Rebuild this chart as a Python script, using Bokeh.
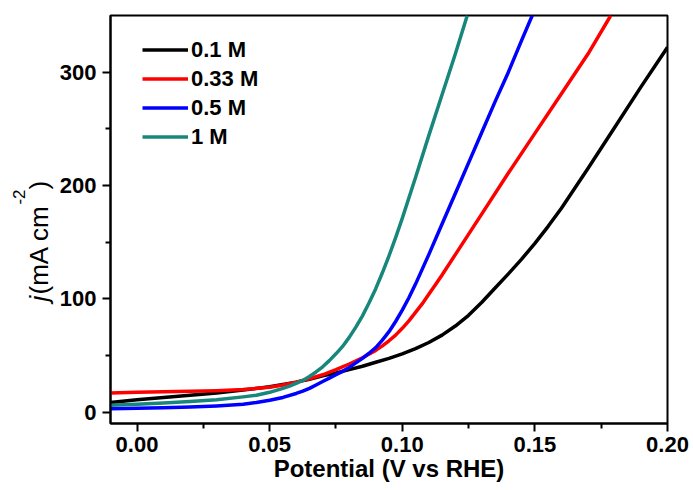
from bokeh.plotting import figure
from bokeh.layouts import row
from bokeh.models import Range1d, FixedTicker, PrintfTickFormatter, Legend, LegendItem
from bokeh.core.properties import value
from bokeh.embed import file_html
from bokeh.resources import INLINE
import math

FONT = "Liberation Sans"

# ---- data ----
x_black = [-0.01, 0.0, 0.01, 0.02, 0.03, 0.04, 0.05, 0.06, 0.065, 0.07, 0.075, 0.08, 0.085, 0.09,
           0.095, 0.10, 0.105, 0.11, 0.115, 0.12, 0.125, 0.13, 0.135, 0.14, 0.145, 0.15, 0.155,
           0.16, 0.17, 0.18, 0.19, 0.20]
y_black = [8.5, 11, 13, 15, 17, 19.5, 22.5, 26.5, 29, 32, 34.5, 37.5, 40.5, 44,
           47.5, 51.5, 56, 61.5, 68, 76, 85.5, 97, 109.5, 122, 135, 149, 164,
           180, 215, 251, 287, 322]

x_red = [-0.01, 0.0, 0.01, 0.02, 0.03, 0.04, 0.05, 0.055, 0.06, 0.065, 0.07, 0.075, 0.08, 0.085,
         0.09, 0.0925, 0.095, 0.0975, 0.10, 0.1025, 0.105, 0.1075, 0.11, 0.1125, 0.115, 0.12,
         0.13, 0.14, 0.15, 0.16, 0.17, 0.1786]
y_red = [17, 17.5, 18, 18.5, 19, 20, 22, 24, 26.5, 29.5, 33, 37.5, 42.5, 48,
         54.5, 58.5, 63, 68, 74, 80.5, 88, 95.5, 104, 112.5, 121, 139,
         175, 211, 246, 281, 316, 350]

x_blue = [-0.01, 0.0, 0.01, 0.02, 0.03, 0.04, 0.045, 0.05, 0.055, 0.06, 0.0625, 0.065, 0.0675,
          0.07, 0.0725, 0.075, 0.0775, 0.08, 0.0825, 0.085, 0.0875, 0.09, 0.0925, 0.095, 0.0975,
          0.10, 0.1025, 0.105, 0.1075, 0.11, 0.115, 0.12, 0.125, 0.13, 0.135, 0.14, 0.145, 0.149]
y_blue = [3, 3.5, 4, 4.5, 5.5, 7, 8.5, 10.5, 13, 16.5, 18.5, 21, 24,
          27, 30, 33, 36, 39.5, 43.5, 47.5, 52, 57, 63.5, 71, 80,
          90, 101, 113, 126, 139, 166, 193, 220, 247, 274, 300, 328, 350]

x_teal = [-0.01, 0.0, 0.01, 0.02, 0.03, 0.04, 0.045, 0.05, 0.055, 0.0575, 0.06, 0.0625, 0.065,
          0.0675, 0.07, 0.0725, 0.075, 0.0775, 0.08, 0.0825, 0.085, 0.0875, 0.09, 0.0925, 0.095,
          0.0975, 0.10, 0.105, 0.11, 0.115, 0.12, 0.1245]
y_teal = [6, 7, 8, 9.5, 11, 13.5, 15, 17.5, 21, 23, 25.5, 28, 31.5,
          35.5, 40, 45.5, 51.5, 58, 66, 75, 85, 96.5, 109, 123, 138,
          154, 171, 207, 244, 280, 316, 350]

series_names = ["0.1 M", "0.33 M", "0.5 M", "1 M"]
series_colors = ["#000000", "#ff0000", "#0000ff", "#17877c"]

x_ticks = [0.0, 0.05, 0.10, 0.15, 0.20]
x_minor = [-0.025, 0.025, 0.075, 0.125, 0.175]
y_ticks = [0, 100, 200, 300]
y_minor = [50, 150, 250]

x_label = "Potential (V vs RHE)"
y_label_parts = ["j", "(mA cm", "-2", ")"]

LABEL_W = 54
W, H = 693, 490
BT, BB = 15, 67

# ---- main plot ----
p = figure(width=W - LABEL_W, height=H, output_backend="svg", toolbar_location=None,
           x_range=Range1d(-0.01, 0.2), y_range=Range1d(-10, 350),
           min_border_left=110 - LABEL_W, min_border_right=26, min_border_top=BT, min_border_bottom=BB)
p.background_fill_color = "white"
p.border_fill_color = "white"
p.outline_line_color = "black"
p.outline_line_width = 2
p.xgrid.visible = False
p.ygrid.visible = False

renderers = []
for xs, ys, c in zip([x_black, x_red, x_blue, x_teal], [y_black, y_red, y_blue, y_teal], series_colors):
    renderers.append(p.line(xs, ys, line_color=c, line_width=3.5, line_join="round"))

for ax in (p.xaxis[0], p.yaxis[0]):
    ax.axis_line_width = 2
    ax.major_tick_line_width = 2
    ax.minor_tick_line_width = 2
    ax.major_tick_in = 0
    ax.major_tick_out = 8
    ax.minor_tick_in = 0
    ax.minor_tick_out = 5
    ax.major_label_text_font = FONT
    ax.major_label_text_font_style = "bold"
    ax.major_label_text_font_size = "22px"
    ax.major_label_text_color = "black"

p.xaxis[0].ticker = FixedTicker(ticks=x_ticks, minor_ticks=x_minor)
p.xaxis[0].formatter = PrintfTickFormatter(format="%.2f")
p.xaxis[0].major_label_standoff = 5
p.xaxis[0].axis_label = x_label
p.xaxis[0].axis_label_text_font = FONT
p.xaxis[0].axis_label_text_font_style = "bold"
p.xaxis[0].axis_label_text_font_size = "24px"
p.xaxis[0].axis_label_text_color = "black"
p.xaxis[0].axis_label_standoff = 0

p.yaxis[0].ticker = FixedTicker(ticks=y_ticks, minor_ticks=y_minor)
p.yaxis[0].major_label_standoff = 6

legend = Legend(items=[LegendItem(label=n, renderers=[r]) for n, r in zip(series_names, renderers)],
                location=(32, 272), orientation="vertical")
legend.border_line_color = None
legend.background_fill_alpha = 0
legend.margin = 0
legend.padding = 0
legend.spacing = 0
legend.glyph_width = 46
legend.glyph_height = 29
legend.label_height = 29
legend.label_standoff = 3
legend.label_text_font = FONT
legend.label_text_font_style = "bold"
legend.label_text_font_size = "22px"
legend.label_text_color = "black"
legend.label_text_baseline = "middle"
p.add_layout(legend)

# ---- narrow strip holding the rotated y-axis title (italic j, superscript -2) ----
lab = figure(width=LABEL_W, height=H, output_backend="svg", toolbar_location=None,
             x_range=Range1d(0, LABEL_W), y_range=p.y_range,
             x_axis_type=None, y_axis_type=None,
             min_border_left=0, min_border_right=0, min_border_top=BT, min_border_bottom=BB)
lab.outline_line_color = None
lab.xgrid.visible = False
lab.ygrid.visible = False
lab.background_fill_color = "white"
lab.border_fill_color = "white"

pieces = [
    (y_label_parts[0], 38, 97.6, "italic", "26px"),
    (y_label_parts[1], 38, 103.8, "normal", "26px"),
    (y_label_parts[2], 18, 183.2, "normal", "17px"),
    (y_label_parts[3], 38, 196.5, "normal", "26px"),
]
for txt, tx, ty, style, size in pieces:
    lab.text(x=[tx], y=[ty], text=[txt], angle=math.pi / 2,
             text_align="left", text_baseline="alphabetic",
             text_font=value(FONT), text_font_style=style, text_font_size=size,
             text_color="black")

layout = row(lab, p, spacing=0)
open("out.html", "w").write(file_html(layout, INLINE))
